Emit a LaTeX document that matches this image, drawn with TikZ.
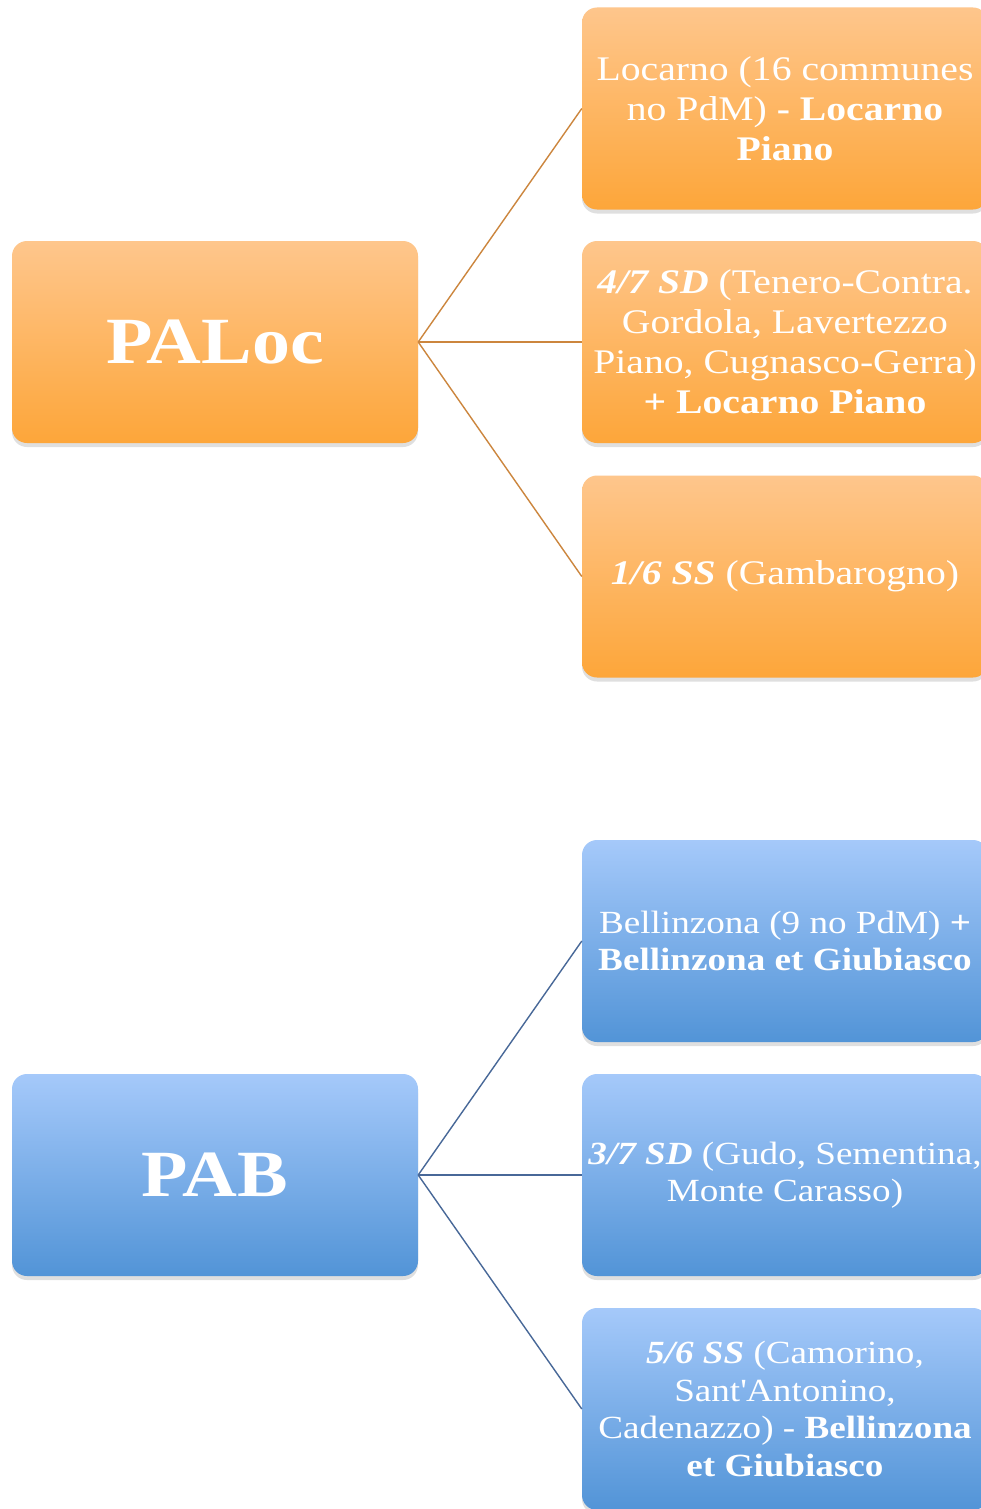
\documentclass[tikz,border=0pt]{standalone}
\usepackage{fontspec}
\setmainfont[FakeStretch=1.15]{Liberation Serif}
\usetikzlibrary{shadows}
\definecolor{orTop}{RGB}{254,198,140}
\definecolor{orBot}{RGB}{253,166,58}
\definecolor{blTop}{RGB}{165,201,250}
\definecolor{blBot}{RGB}{82,148,215}
\definecolor{orLine}{RGB}{204,134,62}
\definecolor{blLine}{RGB}{72,104,152}
\tikzset{
  box/.style={rounded corners=15pt, minimum width=406pt, minimum height=202pt,
    text=white, align=center, inner sep=0pt,
    drop shadow={opacity=0.25, shadow xshift=0pt, shadow yshift=-4pt}},
  orbox/.style={box, top color=orTop, bottom color=orBot},
  blbox/.style={box, top color=blTop, bottom color=blBot},
  big/.style={font=\fontsize{66}{74}\selectfont\bfseries},
  txt/.style={font=\fontsize{34.5}{40}\selectfont},
  txtb/.style={font=\fontsize{32.3}{37.5}\selectfont},
  orcon/.style={draw=orLine, line width=1.4pt},
  blcon/.style={draw=blLine, line width=1.4pt},
}
\newcommand{\bi}[1]{\textbf{\textit{#1}}}
\newcommand{\sq}{{\XeTeXglyph\XeTeXcharglyph"27\relax}}
\begin{document}
\begin{tikzpicture}[x=1pt,y=-1pt]
\clip (0,0) rectangle (981,1509);
\fill[white] (0,0) rectangle (981,1509);
% orange group
\node[orbox, big] (paloc) at (215,342) {PALoc};
\node[orbox, txt] (o1) at (785,108.5) {Locarno (16 communes\\ no PdM) \textbf{- Locarno}\\ \textbf{Piano}};
\node[orbox, txt] (o2) at (785,342) {\bi{4/7 SD} (Tenero-Contra.\\ Gordola, Lavertezzo\\ Piano, Cugnasco-Gerra)\\ \textbf{+ Locarno Piano}};
\node[orbox, txt] (o3) at (785,576.5) {\bi{1/6 SS} (Gambarogno)};
\draw[orcon] (paloc.east) -- (o1.west);
\draw[orcon] (paloc.east) -- (o2.west);
\draw[orcon] (paloc.east) -- (o3.west);
% blue group
\node[blbox, big] (pab) at (215,1175) {PAB};
\node[blbox, txtb] (b1) at (785,941) {Bellinzona (9 no PdM) \textbf{+}\\ \textbf{Bellinzona et Giubiasco}};
\node[blbox, txtb] (b2) at (785,1175) {\bi{3/7 SD} (Gudo, Sementina,\\ Monte Carasso)};
\node[blbox, txtb] (b3) at (785,1409) {\bi{5/6 SS} (Camorino,\\ Sant\sq Antonino,\\ Cadenazzo) - \textbf{Bellinzona}\\ \textbf{et Giubiasco}};
\draw[blcon] (pab.east) -- (b1.west);
\draw[blcon] (pab.east) -- (b2.west);
\draw[blcon] (pab.east) -- (b3.west);
\end{tikzpicture}
\end{document}
